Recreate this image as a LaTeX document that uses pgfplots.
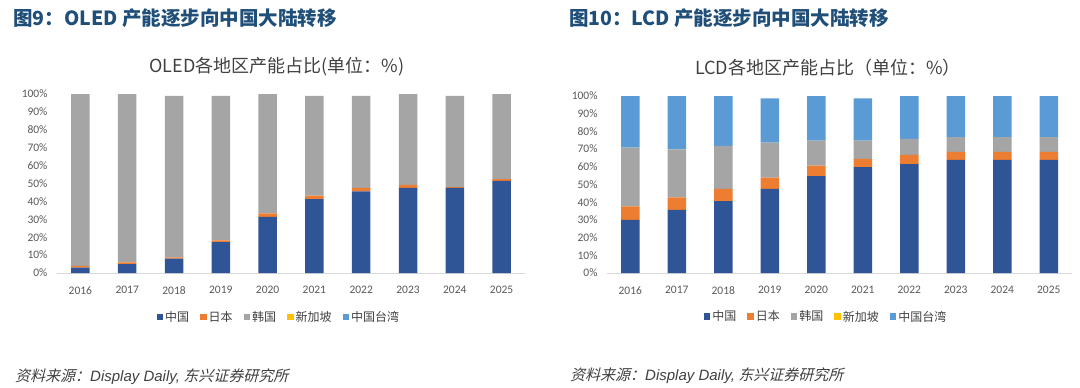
\documentclass[border=0pt]{standalone}
\usepackage{fontspec}
\usepackage{pgfplots}
\usepackage{pgfplotstable}
\pgfplotsset{compat=1.18}
\setmainfont{Carlito}
\newfontfamily\cjk{Noto Sans CJK SC}
\newfontfamily\cjkit[FakeSlant=0.25]{Noto Sans CJK SC}
\newfontfamily\latit{Liberation Sans}
\definecolor{cn}{HTML}{2F5597}
\definecolor{jp}{HTML}{ED7D31}
\definecolor{kr}{HTML}{A5A5A5}
\definecolor{sg}{HTML}{FFC000}
\definecolor{tw}{HTML}{5B9BD5}
\definecolor{figblue}{HTML}{1F4E79}
\definecolor{txtgray}{HTML}{595959}
\definecolor{ttlgray}{HTML}{404040}

\pgfplotstableread{
x cn jp kr sg tw
0 3.0 1.0 96.0 0 0
1 5.0 1.0 94.0 0 0
2 8.0 0.7 90.3 0 0
3 17.3 0.9 80.8 0 0
4 31.3 2.0 66.7 0 0
5 41.3 1.9 55.8 0 0
6 45.6 1.9 51.5 0 0
7 47.5 1.7 50.8 0 0
8 47.5 0.5 51.0 0 0
9 51.4 1.1 47.5 0 0
}\oled

\pgfplotstableread{
x cn jp kr sg tw
0 30.0 7.6 33.3 0 29.1
1 35.7 7.0 27.2 0 30.1
2 40.6 7.0 24.2 0 28.2
3 47.6 6.3 19.8 0 25.0
4 54.7 6.0 14.1 0 25.2
5 59.8 4.7 10.3 0 23.9
6 61.5 5.2 9.1 0 24.2
7 63.9 4.5 8.3 0 23.3
8 63.9 4.5 8.3 0 23.3
9 63.9 4.5 8.3 0 23.3
}\lcd

\pgfplotsset{
  mychart/.style={
    scale only axis,
    anchor=south west,
    ybar stacked,
    bar width=18.5pt,
    xmin=-0.5, xmax=9.5, ymin=0, ymax=100,
    enlargelimits=false,
    xtick={0,...,9},
    xticklabels={2016,2017,2018,2019,2020,2021,2022,2023,2024,2025},
    ytick={0,10,...,100},
    yticklabel={\pgfmathprintnumber{\tick}\%},
    /pgf/number format/assume math mode=true,
    axis x line*=bottom,
    axis y line*=left,
    y axis line style={draw=none},
    x axis line style={draw=black!15, line width=0.8pt},
    major tick length=0pt,
    tick style={draw=none},
    xticklabel style={font=\fontsize{11.5}{13}\selectfont, color=txtgray, yshift=-10pt},
    yticklabel style={font=\fontsize{11.5}{13}\selectfont, color=txtgray, xshift=-6pt},
    legend columns=-1,
    legend style={draw=none, fill=none, font=\cjk\fontsize{12}{14}\selectfont, text=ttlgray,
      /tikz/every even column/.append style={column sep=9pt},
      anchor=north},
    legend image code/.code={\fill[#1] (0pt,-3pt) rectangle (6.5pt,3.5pt);},
  }
}

\begin{document}
\begin{tikzpicture}
\path[use as bounding box] (0pt,0pt) rectangle (1080pt,-388pt);

\node[anchor=west, inner sep=0pt, font=\cjk\bfseries\fontsize{19.5}{22}\selectfont, text=figblue] at (13pt,-18pt) {图9：OLED 产能逐步向中国大陆转移};
\node[anchor=west, inner sep=0pt, font=\cjk\bfseries\fontsize{19.5}{22}\selectfont, text=figblue] at (569pt,-18pt) {图10：LCD 产能逐步向中国大陆转移};

\node[inner sep=0pt, font=\cjk\fontsize{18}{20}\selectfont, text=ttlgray] at (277pt,-67pt) {OLED各地区产能占比(单位：\%)};
\node[inner sep=0pt, font=\cjk\fontsize{18}{20}\selectfont, text=ttlgray] at (828pt,-68pt) {LCD各地区产能占比（单位：\%）};

\begin{axis}[mychart, at={(57pt,-273pt)}, width=468pt, height=179pt,
  legend style={at={(0.474,-0.19)}}]
  \addplot[fill=cn, draw=none] table[x=x, y=cn]{\oled};
  \addplot[fill=jp, draw=none] table[x=x, y=jp]{\oled};
  \addplot[fill=kr, draw=none] table[x=x, y=kr]{\oled};
  \addplot[fill=sg, draw=none] table[x=x, y=sg]{\oled};
  \addplot[fill=tw, draw=none] table[x=x, y=tw]{\oled};
  \legend{中国,日本,韩国,新加坡,中国台湾}
\end{axis}

\begin{axis}[mychart, at={(607pt,-273pt)}, width=465pt, height=177pt,
  legend style={at={(0.471,-0.19)}}]
  \addplot[fill=cn, draw=none] table[x=x, y=cn]{\lcd};
  \addplot[fill=jp, draw=none] table[x=x, y=jp]{\lcd};
  \addplot[fill=kr, draw=none] table[x=x, y=kr]{\lcd};
  \addplot[fill=sg, draw=none] table[x=x, y=sg]{\lcd};
  \addplot[fill=tw, draw=none] table[x=x, y=tw]{\lcd};
  \legend{中国,日本,韩国,新加坡,中国台湾}
\end{axis}

\node[anchor=west, inner sep=0pt, font=\fontsize{15}{17}\selectfont, text=ttlgray] at (15pt,-377pt)
  {{\cjkit 资料来源：}{\latit\itshape Display Daily,} {\cjkit 东兴证券研究所}};
\node[anchor=west, inner sep=0pt, font=\fontsize{15}{17}\selectfont, text=ttlgray] at (570pt,-376pt)
  {{\cjkit 资料来源：}{\latit\itshape Display Daily,} {\cjkit 东兴证券研究所}};
\end{tikzpicture}
\end{document}
